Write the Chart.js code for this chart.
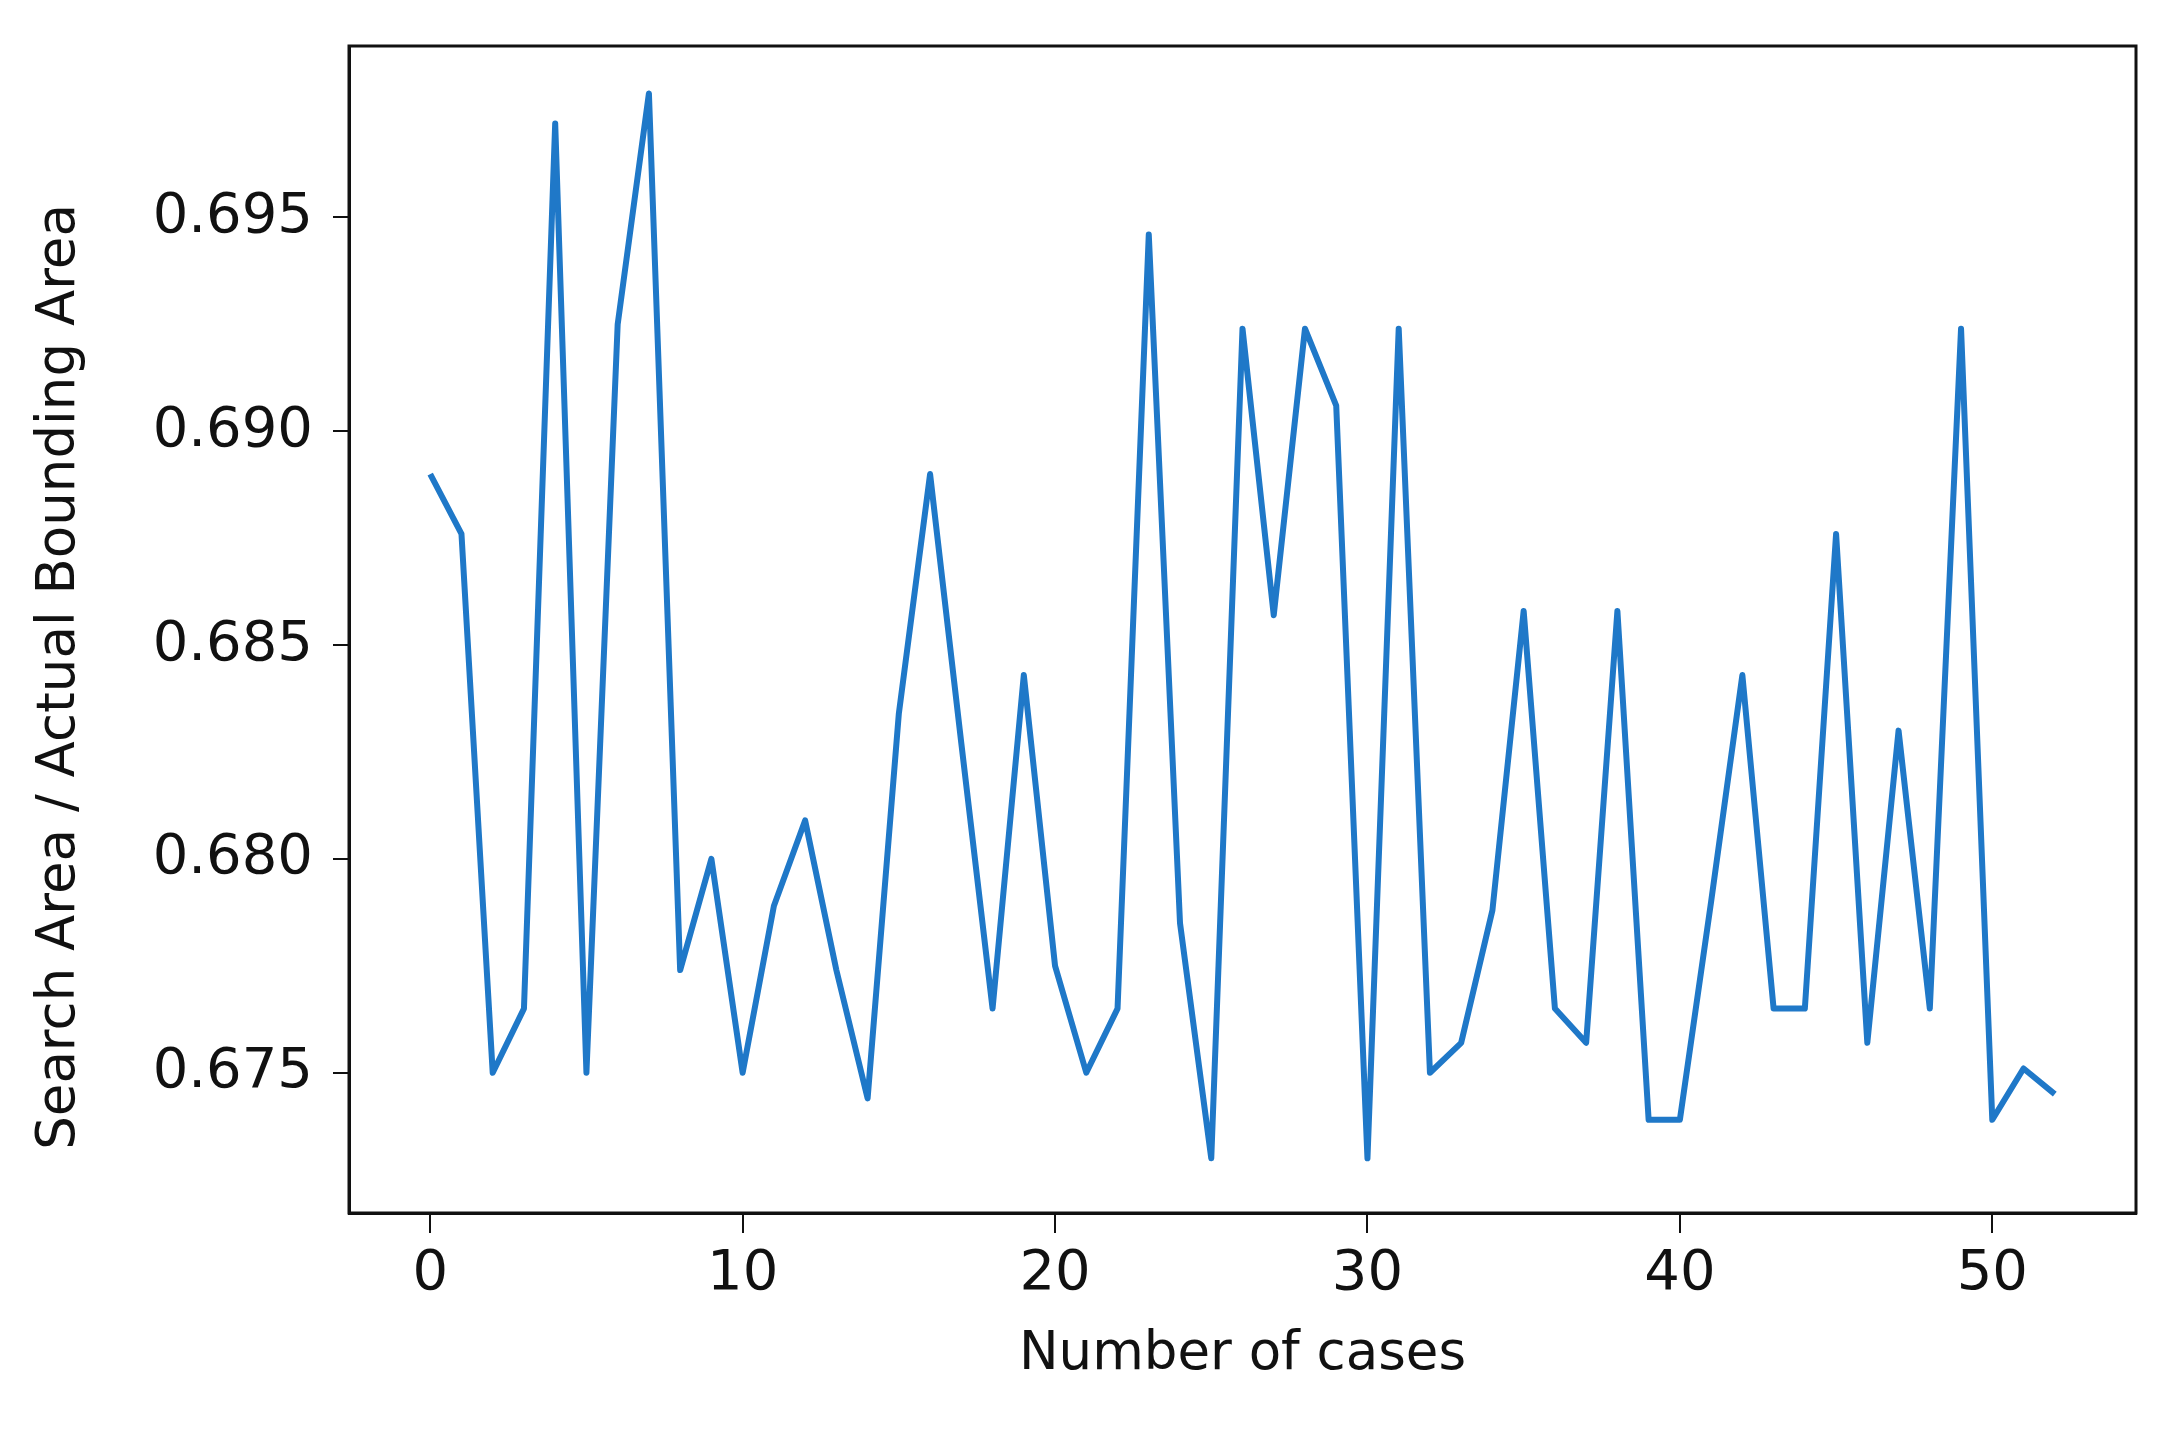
<!DOCTYPE html>
<html>
<head>
<meta charset="utf-8">
<script src="https://cdn.jsdelivr.net/npm/chart.js@4"></script>
<style>
  html, body { margin: 0; padding: 0; background: #fff; }
  #wrap { width: 2172px; height: 1452px; }
</style>
</head>
<body>
<div id="wrap"><canvas id="ratioChart" width="2172" height="1452"></canvas></div>
<script>
// case index 0..52
const cases = [];
for (let i = 0; i <= 52; i++) cases.push(i);

// search area / actual bounding area
const ratios = [
  0.6890, 0.6876, 0.6750, 0.6765, 0.6972, 0.6750, 0.6925, 0.6979, 0.6774, 0.6800,
  0.6750, 0.6789, 0.6809, 0.6774, 0.6744, 0.6834, 0.6890, 0.6827, 0.6765, 0.6843,
  0.6775, 0.6750, 0.6765, 0.6946, 0.6785, 0.6730, 0.6924, 0.6857, 0.6924, 0.6906,
  0.6730, 0.6924, 0.6750, 0.6757, 0.6788, 0.6858, 0.6765, 0.6757, 0.6858, 0.6739,
  0.6739, 0.6790, 0.6843, 0.6765, 0.6765, 0.6876, 0.6757, 0.6830, 0.6765, 0.6924,
  0.6739, 0.6751, 0.6745
];

const xTicks = [0, 10, 20, 30, 40, 50];
const yTicks = [0.675, 0.680, 0.685, 0.690, 0.695];

const yTitle = 'Search Area / Actual Bounding Area';
const ink = '#111111';
const tickFont = { family: 'DejaVu Sans', size: 56, lineHeight: 1.2 };
const titleFont = { family: 'DejaVu Sans', size: 53, lineHeight: 1.2 };

new Chart(document.getElementById('ratioChart'), {
  type: 'line',
  data: {
    datasets: [{
      data: cases.map((c, i) => ({ x: c, y: ratios[i] })),
      borderColor: '#1f78c8',
      borderWidth: 6,
      borderJoinStyle: 'round',
      borderCapStyle: 'butt',
      pointRadius: 0,
      tension: 0,
      fill: false
    }]
  },
  options: {
    responsive: false,
    devicePixelRatio: 1,
    animation: false,
    layout: { padding: { left: 0, right: 36, top: 46, bottom: 0 } },
    plugins: { legend: { display: false }, tooltip: { enabled: false } },
    scales: {
      x: {
        type: 'linear',
        min: -2.6,
        max: 54.6,
        afterBuildTicks: s => { s.ticks = xTicks.map(v => ({ value: v })); },
        afterFit: s => { s.height = 239; s.paddingLeft = 0; s.paddingRight = 0; },
        border: { display: true, color: ink, width: 3 },
        grid: { display: true, drawOnChartArea: false, tickLength: 20, color: ink, lineWidth: 2 },
        ticks: { color: ink, font: tickFont, padding: 8, maxRotation: 0 },
        title: {
          display: true, text: 'Number of cases', color: ink, font: titleFont,
          padding: { top: 0, bottom: 65 }
        }
      },
      y: {
        type: 'linear',
        min: 0.67172,
        max: 0.69901,
        afterBuildTicks: s => { s.ticks = yTicks.map(v => ({ value: v })); },
        afterFit: s => { s.width = 349; s.paddingTop = 0; s.paddingBottom = 0; },
        border: { display: true, color: ink, width: 3 },
        grid: { display: true, drawOnChartArea: false, tickLength: 16, color: ink, lineWidth: 2 },
        ticks: { color: ink, font: tickFont, padding: 20, callback: v => v.toFixed(3) },
        title: { display: false }
      }
    }
  },
  plugins: [{
    id: 'frameAndTitle',
    afterDraw(chart) {
      const { ctx, chartArea: a } = chart;
      ctx.save();
      ctx.strokeStyle = ink;
      ctx.lineWidth = 3;
      ctx.strokeRect(a.left, a.top, a.right - a.left, a.bottom - a.top);
      // y axis title, sits a little below the plot centre in the reference
      ctx.translate(60, 677);
      ctx.rotate(-Math.PI / 2);
      ctx.fillStyle = ink;
      ctx.font = titleFont.size + 'px "' + titleFont.family + '"';
      ctx.textAlign = 'center';
      ctx.textBaseline = 'middle';
      ctx.fillText(yTitle, 0, 0);
      ctx.restore();
    }
  }]
});
</script>
</body>
</html>
